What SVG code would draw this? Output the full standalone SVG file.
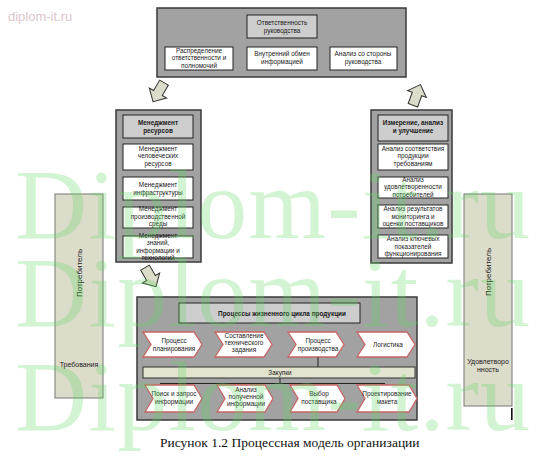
<svg xmlns="http://www.w3.org/2000/svg" width="537" height="460" viewBox="0 0 537 460">
<defs>
<style>
.outer{fill:#a2a2a2;stroke:#3a3a3a;stroke-width:1.5}
.ttl{fill:#cdcdcd;stroke:#222;stroke-width:1}
.sub{fill:#ffffff;stroke:#222;stroke-width:1}
.t{font-family:"Liberation Sans",Arial,sans-serif;font-size:6.4px;fill:#1a1a1a;text-anchor:middle}
.b{font-weight:bold}
.chev{fill:#ffffff;stroke:#c86464;stroke-width:1.3}
.bar{fill:#dcdccb;stroke:#777;stroke-width:1}
.ln{stroke:#222;stroke-width:1;fill:none}
.wm{font-family:"Liberation Serif","Times New Roman",serif;font-size:100px;fill:#5fd85f;fill-opacity:0.28}
.arr{fill:#dcdccb;stroke:#333;stroke-width:1}
</style>
<path id="blk" d="M-5,-12 L5,-12 L5,0 L10,0 L0,10 L-10,0 L-5,0 Z"/>
</defs>
<rect width="537" height="460" fill="#ffffff"/>
<text x="8" y="21" style="font-family:'Liberation Sans',Arial,sans-serif;font-size:13px;fill:#dcc6cc">diplom-it.ru</text>

<g id="responsibility">
<rect class="outer" x="157" y="8" width="249" height="69"/>
<rect class="ttl" x="247" y="15" width="70" height="23"/>
<text class="t" x="282" y="25">Ответственность</text>
<text class="t" x="282" y="33">руководства</text>
<rect class="sub" x="165" y="47" width="68" height="23"/>
<text class="t" x="199" y="52.5">Распределение</text>
<text class="t" x="199" y="60">ответственности и</text>
<text class="t" x="199" y="67.5">полномочий</text>
<rect class="sub" x="247" y="47" width="70" height="23"/>
<text class="t" x="282" y="56">Внутренний обмен</text>
<text class="t" x="282" y="64">информацией</text>
<rect class="sub" x="330" y="47" width="67" height="23"/>
<text class="t" x="363" y="56">Анализ со стороны</text>
<text class="t" x="363" y="64">руководства</text>
</g>

<g id="resources">
<rect class="outer" x="116" y="110" width="85" height="152"/>
<rect class="ttl" x="123" y="115" width="70" height="23"/>
<text class="t b" x="158" y="125">Менеджмент</text>
<text class="t b" x="158" y="133">ресурсов</text>
<rect class="sub" x="123" y="144" width="70" height="26"/>
<text class="t" x="158" y="150.5">Менеджмент</text>
<text class="t" x="158" y="158">человеческих</text>
<text class="t" x="158" y="165.5">ресурсов</text>
<rect class="sub" x="123" y="177" width="70" height="23"/>
<text class="t" x="158" y="187">Менеджмент</text>
<text class="t" x="158" y="195">инфраструктуры</text>
<rect class="sub" x="123" y="207" width="70" height="21"/>
<text class="t" x="158" y="211">Менеджмент</text>
<text class="t" x="158" y="218.5">производственной</text>
<text class="t" x="158" y="226">среды</text>
<rect class="sub" x="123" y="236" width="70" height="22"/>
<text class="t" x="158" y="237.5">Менеджмент</text>
<text class="t" x="158" y="245">знаний,</text>
<text class="t" x="158" y="252.5">информации и</text>
<text class="t" x="158" y="260">технологий</text>
</g>

<g id="measurement">
<rect class="outer" x="371" y="110" width="81" height="153"/>
<rect class="ttl" x="378" y="115" width="70" height="26"/>
<text class="t b" x="413" y="125">Измерение, анализ</text>
<text class="t b" x="413" y="133">и улучшение</text>
<rect class="sub" x="378" y="144" width="70" height="26"/>
<text class="t" x="413" y="150.5">Анализ соответствия</text>
<text class="t" x="413" y="158">продукции</text>
<text class="t" x="413" y="165.5">требованиям</text>
<rect class="sub" x="378" y="177" width="70" height="21"/>
<text class="t" x="413" y="181.5">Анализ</text>
<text class="t" x="413" y="189">удовлетворенности</text>
<text class="t" x="413" y="196.5">потребителей</text>
<rect class="sub" x="378" y="205" width="70" height="23"/>
<text class="t" x="413" y="211">Анализ результатов</text>
<text class="t" x="413" y="218.5">мониторинга и</text>
<text class="t" x="413" y="226">оценки поставщиков</text>
<rect class="sub" x="378" y="235" width="70" height="23"/>
<text class="t" x="413" y="241">Анализ ключевых</text>
<text class="t" x="413" y="248.5">показателей</text>
<text class="t" x="413" y="256">функционирования</text>
</g>

<g id="realization">
<rect class="outer" x="137" y="297" width="280" height="123"/>
<rect class="ttl" x="179" y="303" width="181" height="20"/>
<text class="t b" x="282" y="316">Процессы жизненного цикла продукции</text>
<polygon class="chev" points="143,332 194,332 202,344.5 194,357 143,357 151,344.5"/>
<text class="t" x="174" y="343">Процесс</text>
<text class="t" x="174" y="351">планирования</text>
<polygon class="chev" points="215,332 264,332 272,344.5 264,357 215,357 223,344.5"/>
<text class="t" x="244" y="338">Составление</text>
<text class="t" x="244" y="345">технического</text>
<text class="t" x="244" y="352">задания</text>
<polygon class="chev" points="288,332 336,332 344,344.5 336,357 288,357 296,344.5"/>
<text class="t" x="318" y="343">Процесс</text>
<text class="t" x="318" y="351">производства</text>
<polygon class="chev" points="357,332 407,332 415,344.5 407,357 357,357 365,344.5"/>
<text class="t" x="388" y="347">Логистика</text>
<rect x="143" y="367" width="272" height="11" fill="#e2e4cf" stroke="#333" stroke-width="1"/>
<text class="t" x="280" y="375">Закупки</text>
<polygon class="chev" points="145,385 194,385 202,398.5 194,412 145,412 153,398.5"/>
<text class="t" x="174" y="396">Поиск и запрос</text>
<text class="t" x="174" y="404">информации</text>
<polygon class="chev" points="217,385 265,385 273,398.5 265,412 217,412 225,398.5"/>
<text class="t" x="246" y="392">Анализ</text>
<text class="t" x="246" y="399">полученной</text>
<text class="t" x="246" y="406">информации</text>
<polygon class="chev" points="290,385 337,385 345,398.5 337,412 290,412 298,398.5"/>
<text class="t" x="319" y="396">Выбор</text>
<text class="t" x="319" y="404">поставщика</text>
<polygon class="chev" points="357,385 409,385 417,398.5 409,412 357,412 365,398.5"/>
<text class="t" x="387" y="396">Проектирование</text>
<text class="t" x="387" y="404">макета</text>
</g>

<g id="consumer-left">
<rect class="bar" x="55" y="194" width="48" height="204"/>
<text class="t" style="font-size:8px" transform="translate(82,273) rotate(-90)">Потребитель</text>
<text class="t" style="font-size:7px" x="79" y="367">Требования</text>
</g>

<g id="consumer-right">
<rect class="bar" x="464" y="194" width="48" height="212"/>
<text class="t" style="font-size:8px" transform="translate(491,272) rotate(-90)">Потребитель</text>
<text class="t" style="font-size:7px" x="488" y="364">Удовлетворо</text>
<text class="t" style="font-size:7px" x="488" y="372">нность</text>
</g>

<g id="connectors">
<line class="ln" x1="318" y1="357" x2="318" y2="367"/>
<line class="ln" x1="280" y1="378" x2="280" y2="383.5"/>
<line class="ln" x1="160" y1="383.5" x2="385" y2="383.5"/>
<use href="#blk" class="arr" transform="translate(158,93) rotate(30)"/>
<use href="#blk" class="arr" transform="translate(151,278) rotate(-30)"/>
<use href="#blk" class="arr" transform="translate(417,94) rotate(200)"/>
</g>

<rect x="511" y="408" width="1.6" height="12" fill="#111"/>
<text x="160" y="447" style="font-family:'Liberation Serif','Times New Roman',serif;font-size:13.5px;fill:#111">Рисунок 1.2 Процессная модель организации</text>

<g id="watermark">
<text class="wm" x="15" y="238" textLength="515">Diplom-it.ru</text>
<text class="wm" x="15" y="326" textLength="515">Diplom-it.ru</text>
<text class="wm" x="15" y="430" textLength="515">Diplom-it.ru</text>
</g>
</svg>
